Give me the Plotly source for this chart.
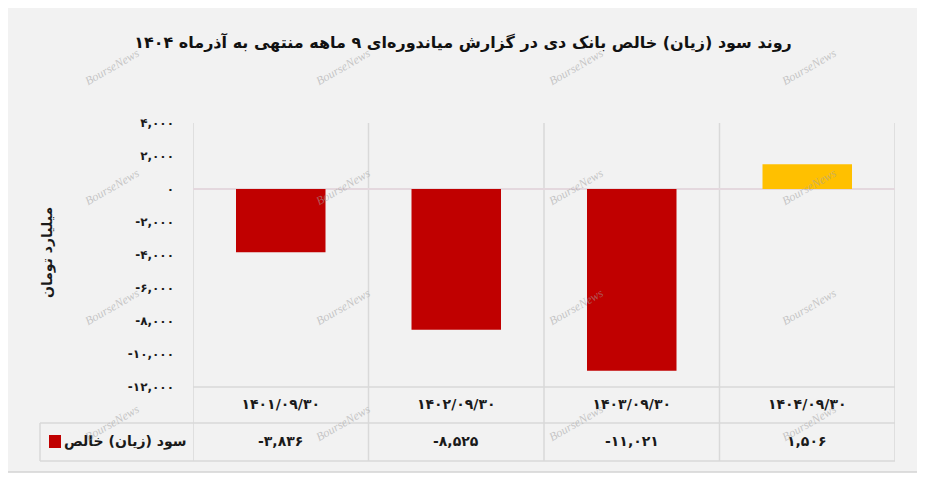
import plotly.graph_objects as go

# --------------------------------------------------
# DATA
# --------------------------------------------------

categories = ["۱۴۰۱/۰۹/۳۰", "۱۴۰۲/۰۹/۳۰", "۱۴۰۳/۰۹/۳۰", "۱۴۰۴/۰۹/۳۰"]
net_profit = [-3836, -8525, -11021, 1506]
series_name = "سود (زیان) خالص"

ytick_vals = [4000, 2000, 0, -2000, -4000, -6000, -8000, -10000, -12000]
ytick_text = ["۴,۰۰۰", "۲,۰۰۰", "۰", "-۲,۰۰۰", "-۴,۰۰۰", "-۶,۰۰۰",
              "-۸,۰۰۰", "-۱۰,۰۰۰", "-۱۲,۰۰۰"]

title_text = "روند سود (زیان) خالص بانک دی در گزارش میاندوره‌ای ۹ ماهه منتهی به آذرماه ۱۴۰۴"
ytitle_text = "میلیارد تومان"

# --------------------------------------------------
# HELPERS
# --------------------------------------------------

FA_DIGITS = str.maketrans("0123456789", "۰۱۲۳۴۵۶۷۸۹")


def fa(v):
    return f"{v:,}".translate(FA_DIGITS)


RED = "#c00000"
GOLD = "#ffc000"
LINE = "#d9d9d9"
TXT = "#1a1a1a"
FONT = "DejaVu Sans"

bar_colors = [RED, RED, RED, GOLD]

# page has an 8px body margin, so the figure is drawn 8px in
OFF = 8
W, H = 925 - OFF, 480 - OFF
# plot area in screen pixels: x 193..895, y 123..387
L, R, T, B = 193, 895, 123, 387


def px(x):
    return (x - L) / (R - L)


def py(y):
    return (B - y) / (B - T)


# --------------------------------------------------
# FIGURE
# --------------------------------------------------

fig = go.Figure()

fig.add_trace(go.Bar(
    x=list(range(len(categories))),
    y=net_profit,
    name=series_name,
    marker=dict(color=bar_colors, line=dict(width=0)),
    width=0.51,
))

shapes = []

# outer frame
shapes.append(dict(type="rect", xref="paper", yref="paper",
                   x0=px(5), x1=px(918), y0=py(472), y1=py(5),
                   fillcolor="#f2f2f2", line=dict(color="#d4d4d4", width=1.5),
                   layer="below"))

# column separators (plot + table)
for i in range(len(categories) + 1):
    shapes.append(dict(type="line", xref="x", yref="paper",
                       x0=i - 0.5, x1=i - 0.5, y0=py(461), y1=1,
                       line=dict(color=LINE, width=1.5), layer="below"))

# table horizontals
shapes.append(dict(type="line", xref="paper", yref="paper",
                   x0=0, x1=1, y0=0, y1=0,
                   line=dict(color=LINE, width=1.5), layer="below"))
for yy in (423, 461):
    shapes.append(dict(type="line", xref="paper", yref="paper",
                       x0=px(40), x1=1, y0=py(yy), y1=py(yy),
                       line=dict(color=LINE, width=1.5), layer="below"))
shapes.append(dict(type="line", xref="paper", yref="paper",
                   x0=px(40), x1=px(40), y0=py(461), y1=py(423),
                   line=dict(color=LINE, width=1.5), layer="below"))

# legend key in the data row
shapes.append(dict(type="rect", xref="paper", yref="paper",
                   x0=px(49), x1=px(61), y0=py(448), y1=py(435),
                   fillcolor=RED, line=dict(width=0)))

annotations = []

# data row values
for i, v in enumerate(net_profit):
    annotations.append(dict(x=i, y=py(441), xref="x", yref="paper",
                            xanchor="center", yanchor="middle",
                            text=fa(v), showarrow=False,
                            font=dict(family=FONT, size=14, color=TXT,
                                      weight="bold")))

annotations.append(dict(x=px(189), y=py(441), xref="paper", yref="paper",
                        text=series_name, showarrow=False,
                        xanchor="right", yanchor="middle",
                        font=dict(family=FONT, size=14, color=TXT,
                                  weight="bold")))

# y axis title
annotations.append(dict(x=px(47), y=py(253), xref="paper", yref="paper",
                        xanchor="center", yanchor="middle",
                        text=ytitle_text, showarrow=False, textangle=-90,
                        font=dict(family=FONT, size=14, color=TXT,
                                  weight="bold")))

# watermark
for wx in (112, 343, 576, 809):
    for wy in (67, 187, 307, 423):
        annotations.append(dict(x=px(wx), y=py(wy), xref="paper", yref="paper",
                                xanchor="center", yanchor="middle",
                                text="BourseNews", showarrow=False, textangle=-30,
                                font=dict(family="Liberation Serif", size=12,
                                          color="rgba(160,160,160,0.55)",
                                          style="italic")))

fig.update_layout(
    width=W,
    height=H,
    margin=dict(l=L - OFF, r=W - (R - OFF), t=T - OFF, b=H - (B - OFF)),
    paper_bgcolor="white",
    plot_bgcolor="rgba(0,0,0,0)",
    showlegend=False,
    title=dict(text=title_text, x=(463 - OFF) / W, xanchor="center",
               y=1 - (42 - OFF) / H, yanchor="middle",
               font=dict(family=FONT, size=16, color="#111111", weight="bold")),
    shapes=shapes,
    annotations=annotations,
    xaxis=dict(
        range=[-0.5, len(categories) - 0.5],
        tickvals=list(range(len(categories))),
        ticktext=categories,
        showgrid=False, zeroline=False, showline=False,
        ticks="", ticklabelstandoff=7,
        tickfont=dict(family=FONT, size=14, color=TXT, weight="bold"),
        fixedrange=True,
    ),
    yaxis=dict(
        range=[-12000, 4000],
        tickvals=ytick_vals,
        ticktext=ytick_text,
        showgrid=False, showline=False,
        zeroline=True, zerolinecolor="#e4d8de", zerolinewidth=1.5,
        ticks="", ticklabelstandoff=18,
        tickfont=dict(family=FONT, size=12, color=TXT, weight="bold"),
        fixedrange=True,
    ),
)

fig.write_html("out.html")
